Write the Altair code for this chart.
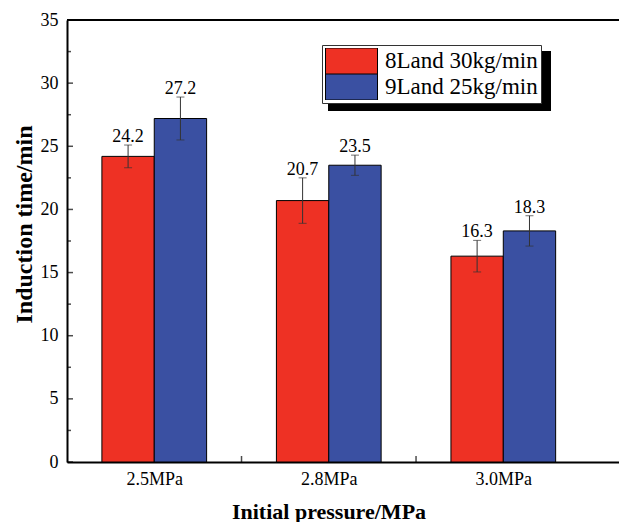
import json
import altair as alt
import pandas as pd

# ---- data ----
categories = ["2.5MPa", "2.8MPa", "3.0MPa"]
series_names = ["8Land 30kg/min", "9Land 25kg/min"]
values_8land = [24.2, 20.7, 16.3]
errors_8land = [0.9, 1.8, 1.25]
values_9land = [27.2, 23.5, 18.3]
errors_9land = [1.7, 0.8, 1.2]
colors = ["#EE3124", "#3A50A2"]
y_major_ticks = [0, 5, 10, 15, 20, 25, 30, 35]
y_minor_ticks = [2.5, 7.5, 12.5, 17.5, 22.5, 27.5, 32.5]

BAR_W = 0.3  # width of one bar in category units
FONT = "Liberation Serif"

rows = []
for s_i, (name, vals, errs) in enumerate(
    [(series_names[0], values_8land, errors_8land),
     (series_names[1], values_9land, errors_9land)]
):
    for c_i, (cat, v, e) in enumerate(zip(categories, vals, errs)):
        center = (c_i + 1) + (s_i - 0.5) * BAR_W
        rows.append({
            "category": cat,
            "series": name,
            "value": v,
            "err": e,
            "lo": v - e,
            "hi": v + e,
            "pos": center,
            "x0": center - BAR_W / 2,
            "x1": center + BAR_W / 2,
        })
df = pd.DataFrame(rows)

between = [i + 1.5 for i in range(len(categories) - 1)]
xtick_df = pd.DataFrame({"t": between})
ymaj_df = pd.DataFrame({"t": y_major_ticks})
ymin_df = pd.DataFrame({"t": y_minor_ticks})

label_expr = json.dumps(categories) + "[datum.value - 1]"

x_scale = alt.Scale(domain=[0.5, 3.663], nice=False, zero=False)
y_scale = alt.Scale(domain=[0, 35], nice=False, zero=True)

x_axis = alt.Axis(
    values=[1, 2, 3], labelExpr=label_expr, ticks=False, tickSize=0,
    labelPadding=8, labelFont=FONT, labelFontSize=18, labelColor="black",
    domainColor="black", domainWidth=2, grid=False,
    title="Initial pressure/MPa", titleFont=FONT, titleFontSize=22,
    titleFontWeight="bold", titleColor="black", titleX=261.5, titleY=56,
    titleAlign="center", titleBaseline="alphabetic",
)
y_axis = alt.Axis(
    values=y_major_ticks, ticks=False, tickSize=0, labelPadding=9,
    labelFont=FONT, labelFontSize=18, labelColor="black",
    domainColor="black", domainWidth=2, grid=False,
    title="Induction time/min", titleFont=FONT, titleFontSize=24,
    titleFontWeight="bold", titleColor="black", titleAngle=270,
    titleX=-43, titleY=204, titleAlign="center", titleBaseline="middle",
)

base = alt.Chart(df)

shadow = alt.Chart(pd.DataFrame({"a": [0]})).mark_rect(color="black").encode(
    x=alt.value(261), x2=alt.value(484), y=alt.value(31), y2=alt.value(91)
)

bars = base.mark_bar(stroke="black", strokeWidth=1).encode(
    x=alt.X("x0:Q", scale=x_scale, axis=x_axis),
    x2="x1:Q",
    y=alt.Y("value:Q", scale=y_scale, axis=y_axis),
    y2=alt.datum(0),
    color=alt.Color(
        "series:N",
        scale=alt.Scale(domain=series_names, range=colors),
        legend=alt.Legend(
            orient="none", legendX=255, legendY=25, title=None,
            symbolType="M-1,-0.5H1V0.5H-1Z", symbolSize=2704,
            symbolStrokeColor="black", symbolStrokeWidth=1, symbolOpacity=1,
            labelFont=FONT, labelFontSize=23, labelColor="black",
            labelOffset=7, padding=3, fillColor="white",
            strokeColor="#333333", rowPadding=0, clipHeight=26,
        ),
    ),
)

err_rules = base.mark_rule(color="#333333", strokeWidth=1).encode(
    x=alt.X("pos:Q", scale=x_scale, axis=x_axis),
    y=alt.Y("lo:Q", scale=y_scale, axis=y_axis),
    y2="hi:Q",
)

caps = base.transform_fold(["lo", "hi"], as_=["k", "v"]).mark_tick(
    orient="horizontal", size=8, thickness=1, color="#333333"
).encode(
    x=alt.X("pos:Q", scale=x_scale, axis=x_axis),
    y=alt.Y("v:Q", scale=y_scale, axis=y_axis),
)

labels = base.mark_text(
    font=FONT, fontSize=18, color="black", baseline="alphabetic", dy=-3
).encode(
    x=alt.X("pos:Q", scale=x_scale, axis=x_axis),
    y=alt.Y("hi:Q", scale=y_scale, axis=y_axis),
    text=alt.Text("value:Q", format=".1f"),
)

ymaj = alt.Chart(ymaj_df).mark_tick(
    orient="horizontal", size=6, thickness=1.5, color="black"
).encode(x=alt.value(3), y=alt.Y("t:Q", scale=y_scale, axis=y_axis))

ymin = alt.Chart(ymin_df).mark_tick(
    orient="horizontal", size=4, thickness=1.5, color="black"
).encode(x=alt.value(2), y=alt.Y("t:Q", scale=y_scale, axis=y_axis))

xmin = alt.Chart(xtick_df).mark_tick(
    orient="vertical", size=6, thickness=1.5, color="black"
).encode(x=alt.X("t:Q", scale=x_scale, axis=x_axis), y=alt.value(439))

top_line = alt.Chart(pd.DataFrame({"t": [35]})).mark_rule(
    color="black", strokeWidth=2
).encode(y=alt.Y("t:Q", scale=y_scale, axis=y_axis))

chart = alt.layer(
    shadow, bars, err_rules, caps, labels, ymaj, ymin, xmin, top_line
).properties(
    width=552, height=442,
    padding={"left": 59, "top": 12, "right": 0, "bottom": 60},
    autosize=alt.AutoSizeParams(type="none"),
).configure_view(stroke=None)

chart.save("out.html", embed_options={"renderer": "svg", "actions": False})
